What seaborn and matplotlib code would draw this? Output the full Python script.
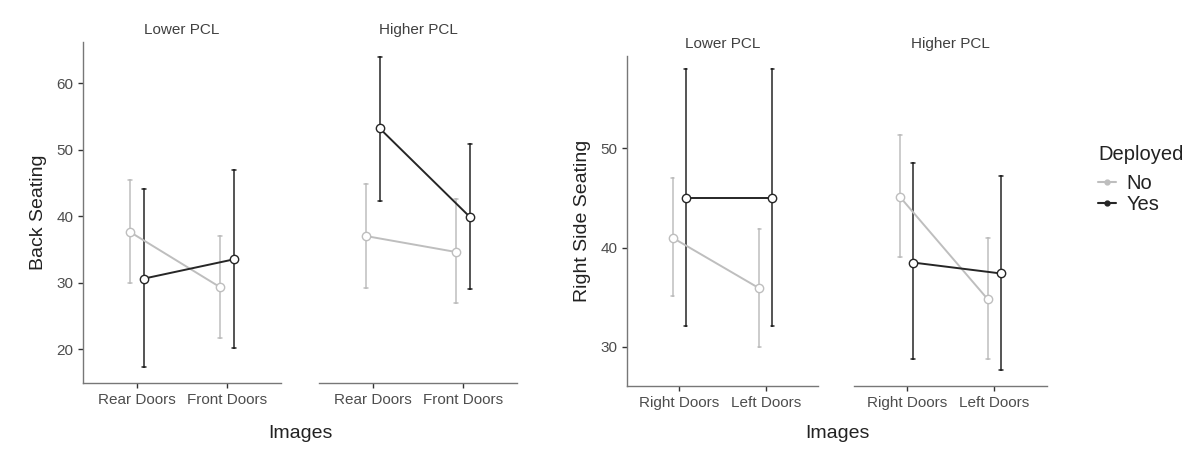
import numpy as np
import pandas as pd
import matplotlib.pyplot as plt
import seaborn as sns
from matplotlib.lines import Line2D

# ---- data (mean and error bar ends) ----
pcl_levels = ["Lower PCL", "Higher PCL"]
deployed_levels = ["No", "Yes"]

# row order: Lower PCL No x2, Lower PCL Yes x2, Higher PCL No x2, Higher PCL Yes x2
row_pcl = ["Lower PCL"] * 4 + ["Higher PCL"] * 4
row_deployed = ["No", "No", "Yes", "Yes"] * 2

back_images = ["Rear Doors", "Front Doors"]
back_mean = [37.6, 29.3, 30.6, 33.5, 37.0, 34.6, 53.2, 39.9]
back_low = [30.0, 21.7, 17.3, 20.1, 29.2, 26.9, 42.3, 29.1]
back_high = [45.4, 37.0, 44.1, 46.9, 44.9, 42.6, 64.0, 50.9]

side_images = ["Right Doors", "Left Doors"]
side_mean = [41.0, 35.9, 45.0, 45.0, 45.1, 34.8, 38.5, 37.4]
side_low = [35.1, 30.0, 32.1, 32.1, 39.1, 28.8, 28.8, 27.7]
side_high = [47.0, 41.9, 58.0, 58.0, 51.3, 41.0, 48.5, 47.2]

palette = {"No": "#bebebe", "Yes": "#262626"}

sns.set_style("ticks")
plt.rcParams['font.family'] = ['Liberation Sans', 'DejaVu Sans']

W, H = 1200, 470
fig = plt.figure(figsize=(W / 100, H / 100), dpi=100)


def px_axes(x0, y0, x1, y1):
    return fig.add_axes([x0 / W, 1 - y1 / H, (x1 - x0) / W, (y1 - y0) / H])


def long_table(images, mean, low, high):
    # each group gets (low, mean, high); median = mean, min/max = bar ends
    rows = []
    for p, d, im, m, lo, hi in zip(row_pcl, row_deployed, images * 4, mean, low, high):
        for v in (lo, m, hi):
            rows.append({"PCL": p, "Deployed": d, "Images": im, "value": v})
    return pd.DataFrame(rows)


def draw_chart(boxes, images, mean, low, high, ylim, yticks, ylabel, xlabel_x):
    df = long_table(images, mean, low, high)
    axes = []
    for i, (pcl, box) in enumerate(zip(pcl_levels, boxes)):
        ax = px_axes(*box)
        sns.pointplot(data=df[df["PCL"] == pcl], x="Images", y="value",
                      hue="Deployed", order=images, hue_order=deployed_levels,
                      palette=palette, estimator=np.median,
                      errorbar=lambda v: (v.min(), v.max()),
                      dodge=0.15, markers="o", linestyles="-",
                      markersize=6, markeredgewidth=1.0, markerfacecolor="white",
                      linewidth=1.4, capsize=0.04,
                      err_kws={"linewidth": 1.1, "zorder": 1.5},
                      legend=False, ax=ax)
        ax.set_xlim(-0.6, 1.6)
        ax.set_ylim(*ylim)
        ax.set_yticks(yticks)
        ax.set_xlabel("")
        ax.set_ylabel("")
        ax.set_title(pcl, fontsize=11, color="#404040", pad=6)
        sns.despine(ax=ax)
        for s in ("left", "bottom"):
            ax.spines[s].set_color("#777777")
            ax.spines[s].set_linewidth(1.0)
        ax.tick_params(axis="both", colors="#333333", labelcolor="#4d4d4d",
                       length=3.5, width=1, labelsize=11)
        if i == 0:
            ax.set_ylabel(ylabel, fontsize=14, color="#222222", labelpad=7)
        else:
            ax.spines["left"].set_visible(False)
            ax.tick_params(axis="y", left=False, labelleft=False)
        axes.append(ax)
    fig.text(xlabel_x / W, 1 - 434 / H, "Images", fontsize=14, color="#222222",
             ha="center", va="center")
    return axes


draw_chart([(83, 42, 281, 383), (319, 42, 517, 383)], back_images,
           back_mean, back_low, back_high, (14.9, 66.2), [20, 30, 40, 50, 60],
           "Back Seating", 300)
draw_chart([(627, 56, 818, 386), (854, 56, 1047, 386)], side_images,
           side_mean, side_low, side_high, (26.07, 59.3), [30, 40, 50],
           "Right Side Seating", 837)

# legend: title as separate text so the gap matches the reference
fig.text(1098 / W, 1 - 155 / H, "Deployed", fontsize=14.5, color="#222222",
         ha="left", va="center")
handles = [Line2D([], [], color=palette[d], marker="o", markersize=3.5, lw=1.5)
           for d in deployed_levels]
leg = fig.legend(handles, deployed_levels, loc="upper left",
                 bbox_to_anchor=(1090 / W, 1 - 166 / H), frameon=False,
                 borderaxespad=0, fontsize=14.5, handlelength=0.9,
                 handletextpad=0.5, labelspacing=0.1)
for t in leg.get_texts():
    t.set_color("#222222")

fig.savefig("out.png", dpi=100)
